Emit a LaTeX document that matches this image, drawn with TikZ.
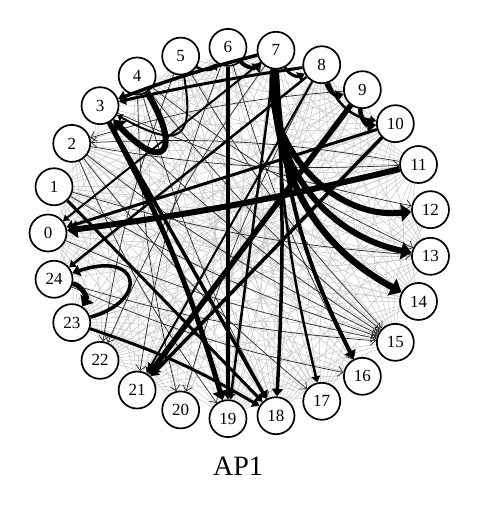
\documentclass[tikz,border=0pt]{standalone}
\usepackage{fontspec}
\setmainfont{Liberation Serif}
\usetikzlibrary{arrows.meta}
\pgfdeclarelayer{bg}
\pgfdeclarelayer{mid}
\pgfsetlayers{bg,mid,main}
\begin{document}
\begin{tikzpicture}[x=1pt,y=-1pt,
  vtx/.style={circle,draw,line width=1.7pt,fill=white,minimum size=37pt,inner sep=0pt,font=\fontsize{17}{17}\selectfont},
  gedge/.style={draw=black!22,line width=0.55pt},
  thin/.style={draw=black!85,line width=0.7pt,-{Straight Barb[length=5pt,width=10pt]}},
  med/.style={draw=black,line width=#1,-{Triangle[length=3pt 1.3,width=3pt 2.3]}},
  thick/.style={draw=black,line width=#1,-{Triangle[length=3pt 1.2,width=3pt 2.4]}},
  title/.style={font=\fontsize{28}{28}\selectfont}]
\useasboundingbox (0,0) rectangle (480,525);
\foreach \i in {0,...,24}{
  \pgfmathsetmacro{\a}{180-14.4*\i}
  \node[vtx] (n\i) at ({240+192*cos(\a)},{233-186*sin(\a)}) {\i};
}
\node[title] (t) at (238,466) {AP1};
% gray background mesh
\begin{pgfonlayer}{bg}
\foreach \i in {0,...,24}{
  \foreach \k in {2,...,12}{
    \pgfmathtruncatemacro{\j}{mod(\i+\k,25)}
    \pgfmathtruncatemacro{\s}{mod(\i*7+\k*11,4)}
    \ifnum\s>0
      \draw[gedge] (n\i) to[bend right=18] (n\j);
    \fi
  }
}
\end{pgfonlayer}
\begin{pgfonlayer}{mid}
% thin black edges
\foreach \s/\t in {0/15,1/15,2/15,3/15,4/15,24/15,5/15,
  2/11,3/12,4/13,1/13,
  7/22,5/22,8/20,6/21,
  2/17,4/18,6/16,9/2,11/2,
  4/20,2/19,24/16}{
  \draw[thin] (n\s) to[bend right=6] (n\t);
}
\end{pgfonlayer}
% medium edges
\draw[med=3.5pt] (n10) -- (n21);
\draw[med=3.5pt] (n6) -- (n19);
\draw[med=3.5pt] (n7) to[bend left=3] (n18);
\draw[med=3.5pt] (n3) -- (n18);
\draw[med=3.5pt] (n7) to[bend right=3] (n3);
\draw[med=3pt] (n8) to[bend right=2] (n3);
\draw[med=3.5pt] (n23) .. controls (150,300) and (140,250) .. (n24);
\draw[med=3pt] (n23) to[bend left=6] (n18);
\draw[med=3pt] (n1) -- (n18);
\draw[med=3pt] (n10) -- (n0);
\draw[med=4pt] (n7) to[bend right=12] (n16);
\draw[med=2.5pt] (n7) -- (n19);
\draw[med=2.5pt] (n7) to[bend right=6] (n17);
\draw[med=2.5pt] (n8) -- (n24);
\draw[med=2pt] (n8) -- (n21);
\draw[med=2pt] (n7) -- (n0);
\draw[med=2pt] (n5) .. controls (195,140) and (180,150) .. (n3);
\draw[med=2.5pt] (n8) to[bend right=30] (n10);
% arcs between neighbours
\draw[med=2.5pt] (n5) to[bend right=45] (n6);
\draw[med=4pt] (n6) to[bend right=45] (n7);
\draw[med=3pt] (n7) to[bend right=45] (n8);
\draw[med=3.5pt] (n8) to[bend right=45] (n9);
\draw[med=4.5pt] (n9) to[bend right=50] (n10);
% thick edges
\draw[thick=6pt] (n11) to[bend left=3] (n0);
\draw[thick=6pt] (n7) to[bend right=52] (n12);
\draw[thick=6pt] (n7) to[bend right=42] (n13);
\draw[thick=6.5pt] (n7) to[bend right=32] (n14);
\draw[thick=6pt] (n4) .. controls (182,150) and (165,175) .. (n3);
\draw[thick=5.5pt] (n9) -- (n21);
\draw[thick=5pt] (n3) to[bend left=6] (n19);
\draw[thick=5pt] (n24) to[bend left=55] (n23);
\end{tikzpicture}
\end{document}
